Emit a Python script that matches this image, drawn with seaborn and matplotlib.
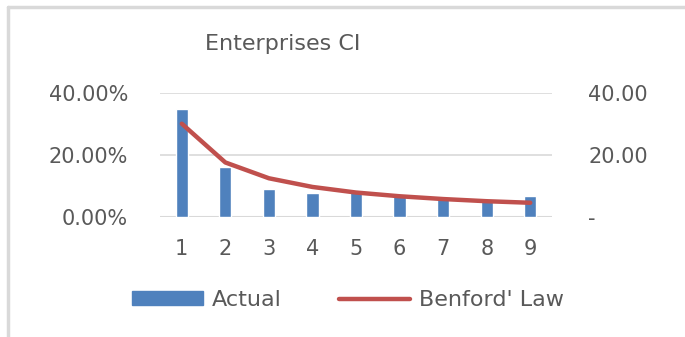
import matplotlib
matplotlib.use('Agg')
import matplotlib.pyplot as plt
import matplotlib.lines as mlines
import seaborn as sns
import numpy as np
import pandas as pd

# 데이터
digits = ['1', '2', '3', '4', '5', '6', '7', '8', '9']
actual = [34.9, 16.0, 8.9, 7.6, 8.6, 7.0, 6.5, 5.4, 6.7]
benford = [30.1, 17.6, 12.5, 9.7, 7.9, 6.7, 5.8, 5.1, 4.6]
left_ticks = [0, 20, 40]
left_labels = ['0.00%', '20.00%', '40.00%']
right_labels = ['-', '20.00', '40.00']

BAR_COLOR = '#4f81bd'
LINE_COLOR = '#c0504d'
TEXT_COLOR = '#595959'
GRID_COLOR = '#d9d9d9'

sns.set_theme(style='white')
plt.rcParams['font.family'] = ['DejaVu Sans']

df = pd.DataFrame({'digit': digits, 'actual': actual, 'benford': benford})

fig = plt.figure(figsize=(6.85, 3.37), dpi=100)
ax = fig.add_axes([0.2336, 0.356, 0.5723, 0.368])

sns.barplot(data=df, x='digit', y='actual', color=BAR_COLOR, width=0.28,
            saturation=1, ax=ax)
ax.set_xlim(-0.5, 8.5)
ax.set_ylim(0, 40)
ax.set_yticks(left_ticks)
ax.set_yticklabels(left_labels)
ax.yaxis.grid(True, color=GRID_COLOR, linewidth=1.2)
ax.set_axisbelow(True)
ax.set_xlabel('')
ax.set_ylabel('')
for s in ax.spines.values():
    s.set_visible(False)
ax.axhline(0, color=GRID_COLOR, linewidth=1.5, zorder=0)
ax.tick_params(axis='x', length=0, pad=16, labelsize=15, labelcolor=TEXT_COLOR)
ax.tick_params(axis='y', length=0, pad=23, labelsize=15, labelcolor=TEXT_COLOR)

ax2 = ax.twinx()
sns.lineplot(x=np.arange(len(digits)), y=benford, color=LINE_COLOR,
             linewidth=3.2, ax=ax2, solid_capstyle='round', legend=False)
ax2.set_ylim(0, 40)
ax2.set_yticks(left_ticks)
ax2.set_yticklabels(right_labels)
ax2.tick_params(axis='y', length=0, pad=26, labelsize=15, labelcolor=TEXT_COLOR)
for s in ax2.spines.values():
    s.set_visible(False)
ax2.grid(False)
ax2.set_xlim(-0.5, 8.5)

fig.text(0.412, 0.87, 'Enterprises CI', ha='center', va='center',
         fontsize=16, color=TEXT_COLOR)

bar_handle = plt.Rectangle((0, 0), 1, 1, color=BAR_COLOR)
line_handle = mlines.Line2D([], [], color=LINE_COLOR, linewidth=3.2,
                            solid_capstyle='round')
leg = fig.legend([bar_handle, line_handle], ['Actual', "Benford' Law"],
                 loc='center', bbox_to_anchor=(0.508, 0.11), ncol=2,
                 frameon=False, fontsize=16, handlelength=3.2,
                 handleheight=0.55, handletextpad=0.4, columnspacing=2.6)
for t in leg.get_texts():
    t.set_color(TEXT_COLOR)

# 차트 테두리
fig.add_artist(mlines.Line2D([0.0117, 0.0117], [0, 0.98], color=GRID_COLOR,
                             linewidth=2.5, transform=fig.transFigure))
fig.add_artist(mlines.Line2D([0.0117, 1], [0.98, 0.98], color=GRID_COLOR,
                             linewidth=2.5, transform=fig.transFigure))

fig.savefig('out.png', dpi=100, facecolor='white')
